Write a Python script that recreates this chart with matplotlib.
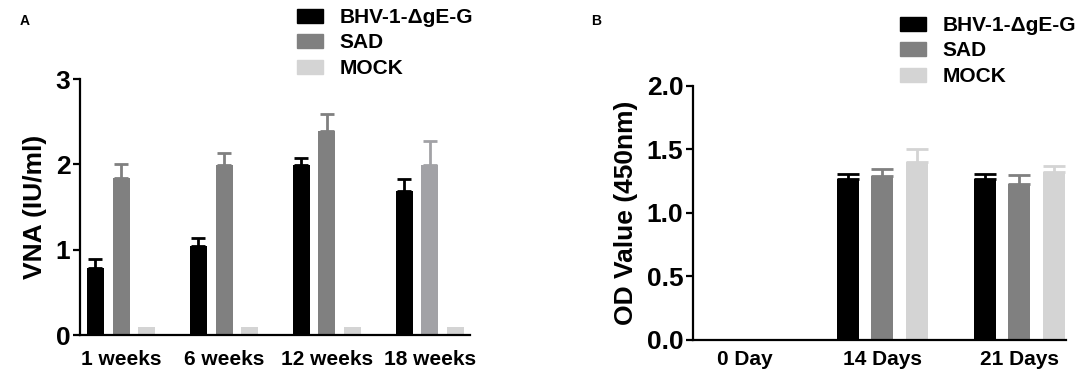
import matplotlib
matplotlib.use("Agg")
import matplotlib.pyplot as plt
import numpy as np
from matplotlib.patches import Patch

plt.rcParams['font.family'] = ['Liberation Sans', 'DejaVu Sans']
plt.rcParams['font.weight'] = 'bold'

# Panel A data
a_groups = ["1 weeks", "6 weeks", "12 weeks", "18 weeks"]
a_bhv = [0.79, 1.04, 1.99, 1.69]
a_bhv_err = [0.10, 0.10, 0.08, 0.14]
a_sad = [1.84, 1.99, 2.39, 1.99]
a_sad_err = [0.16, 0.14, 0.20, 0.28]
a_mock = [0.09, 0.09, 0.09, 0.09]

# Panel B data
b_groups = ["0 Day", "14 Days", "21 Days"]
b_bhv = [0.0, 1.27, 1.27]
b_bhv_err = [0.0, 0.035, 0.04]
b_sad = [0.0, 1.29, 1.23]
b_sad_err = [0.0, 0.055, 0.07]
b_mock = [0.0, 1.40, 1.32]
b_mock_err = [0.0, 0.10, 0.05]

series_names = ["BHV-1-\u0394gE-G", "SAD", "MOCK"]
c_black = "#000000"
c_sad = "#808080"
c_sad18 = "#a2a2a6"
c_mock = "#d4d4d4"

fig = plt.figure(figsize=(10.84, 3.8), dpi=100)

def style_axes(ax, xpad):
    for s in ["top", "right"]:
        ax.spines[s].set_visible(False)
    for s in ["left", "bottom"]:
        ax.spines[s].set_linewidth(1.6)
    ax.tick_params(axis="y", direction="out", length=5, width=1.6, labelsize=19, pad=2)
    ax.tick_params(axis="x", length=0, labelsize=15, pad=xpad)
    for lab in ax.get_xticklabels() + ax.get_yticklabels():
        lab.set_fontweight("bold")

legend_kw = dict(loc="upper left", frameon=False, prop={"size": 15, "weight": "bold"},
                 handlelength=1.25, handleheight=0.67, handletextpad=0.8,
                 labelspacing=0.31, borderpad=0, borderaxespad=0)

# ---- Panel A ----
axA = fig.add_axes([0.0738, 0.1184, 0.3598, 0.6736])
x = np.arange(len(a_groups))
off = 0.25
w = 0.165
sad_colors = [c_sad, c_sad, c_sad, c_sad18]
axA.bar(x - off, a_bhv, w, color=c_black, zorder=2)
axA.errorbar(x - off, a_bhv, yerr=[np.zeros(4), a_bhv_err], fmt="none",
             ecolor=c_black, elinewidth=2, capsize=5, capthick=2, zorder=1)
for i in range(len(x)):
    axA.bar(x[i], a_sad[i], w, color=sad_colors[i], zorder=2)
    axA.errorbar(x[i], a_sad[i], yerr=[[0], [a_sad_err[i]]], fmt="none",
                 ecolor=sad_colors[i], elinewidth=2, capsize=5, capthick=2, zorder=1)
axA.bar(x + off, a_mock, w, color=c_mock, zorder=2)
axA.set_xlim(-0.4, 3.39)
axA.set_ylim(0, 3)
axA.set_yticks([0, 1, 2, 3])
axA.set_xticks(x)
axA.set_xticklabels(a_groups)
axA.set_ylabel("VNA (IU/ml)", fontsize=19, fontweight="bold", labelpad=6)
style_axes(axA, 11)

handlesA = [Patch(color=c_black), Patch(color=c_sad), Patch(color=c_mock)]
fig.legend(handlesA, series_names, bbox_to_anchor=(297 / 1084, 1 - 8 / 380), **legend_kw)

fig.text(0.018, 0.945, "A", fontsize=10, fontweight="bold", va="center")

# ---- Panel B ----
axB = fig.add_axes([0.6393, 0.1053, 0.3441, 0.6684])
xb = np.arange(len(b_groups))
wb = 0.16
bar_sets = [(b_bhv, b_bhv_err, c_black, -off), (b_sad, b_sad_err, c_sad, 0.0),
            (b_mock, b_mock_err, c_mock, off)]
for vals, errs, col, o in bar_sets:
    vals = np.array(vals)
    errs = np.array(errs)
    axB.bar(xb + o, vals, wb, color=col, zorder=2)
    m = vals > 0
    axB.errorbar((xb + o)[m], vals[m], yerr=[np.zeros(m.sum()), errs[m]], fmt="none",
                 ecolor=col, elinewidth=2, capsize=8, capthick=2, zorder=1)
axB.set_xlim(-0.38, 2.34)
axB.set_ylim(0, 2.0)
axB.set_yticks([0.0, 0.5, 1.0, 1.5, 2.0])
axB.set_yticklabels(["0.0", "0.5", "1.0", "1.5", "2.0"])
axB.set_xticks(xb)
axB.set_xticklabels(b_groups)
axB.set_ylabel("OD Value (450nm)", fontsize=19, fontweight="bold", labelpad=6)
style_axes(axB, 7)

handlesB = [Patch(color=c_black), Patch(color=c_sad), Patch(color=c_mock)]
fig.legend(handlesB, series_names, bbox_to_anchor=(900 / 1084, 1 - 16 / 380), **legend_kw)

fig.text(0.545, 0.945, "B", fontsize=10, fontweight="bold", va="center")

fig.savefig("out.png", dpi=100)
